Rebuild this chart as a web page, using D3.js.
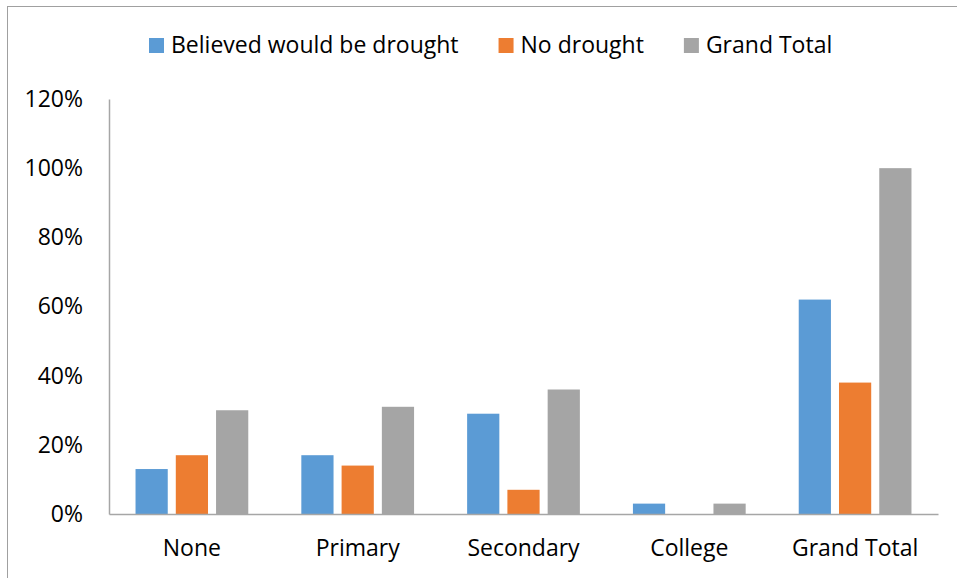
<!DOCTYPE html>
<html>
<head>
<meta charset="utf-8">
<script src="https://cdn.jsdelivr.net/npm/d3@7"></script>
<style>
  body { margin: 0; background: #fff; }
  text { font-family: "Open Sans", sans-serif; fill: #000; }
</style>
</head>
<body>
<div id="chart"></div>
<script>
// Data
const categories = ["None", "Primary", "Secondary", "College", "Grand Total"];
const seriesNames = ["Believed would be drought", "No drought", "Grand Total"];
const believed = [0.13, 0.17, 0.29, 0.03, 0.62];
const noDrought = [0.17, 0.14, 0.07, 0.00, 0.38];
const grandTotal = [0.30, 0.31, 0.36, 0.03, 1.00];
const yTicks = [0, 0.2, 0.4, 0.6, 0.8, 1.0, 1.2];
const colors = ["#5B9BD5", "#ED7D31", "#A5A5A5"];

const width = 957, height = 578;
const margin = { top: 99, right: 19, bottom: 64, left: 109 };
const fontSize = 23;

const svg = d3.select("#chart").append("svg")
    .attr("width", width)
    .attr("height", height);

// outer chart border (cropped on right/bottom)
svg.append("rect")
    .attr("x", 7.5).attr("y", 6.5)
    .attr("width", width + 20).attr("height", height + 20)
    .attr("fill", "none")
    .attr("stroke", "#a0a0a0")
    .attr("stroke-width", 1);

const x0 = d3.scaleBand()
    .domain(categories)
    .range([margin.left, width - margin.right])
    .paddingInner(0.32)
    .paddingOuter(0.16);

const x1 = d3.scaleBand()
    .domain(seriesNames)
    .range([0, x0.bandwidth()])
    .paddingInner(0.2);

const y = d3.scaleLinear()
    .domain([0, 1.2])
    .range([height - margin.bottom, margin.top]);

const rows = categories.map((c, i) => ({
    cat: c,
    vals: [believed[i], noDrought[i], grandTotal[i]]
}));

// Bars
const groups = svg.append("g").selectAll("g")
    .data(rows)
    .enter().append("g")
    .attr("transform", d => `translate(${x0(d.cat)},0)`);

groups.selectAll("rect")
    .data(d => d.vals.map((v, k) => ({ name: seriesNames[k], v, k })))
    .enter().append("rect")
    .attr("x", d => x1(d.name))
    .attr("y", d => y(d.v))
    .attr("width", x1.bandwidth())
    .attr("height", d => y(0) - y(d.v))
    .attr("fill", d => colors[d.k]);

// Y axis
const yAxis = svg.append("g")
    .attr("transform", `translate(${margin.left},0)`)
    .call(d3.axisLeft(y).tickValues(yTicks).tickFormat(d3.format(".0%")).tickSize(0).tickPadding(26));
yAxis.select(".domain").attr("stroke", "#a6a6a6").attr("stroke-width", 1.5);
yAxis.selectAll("text").attr("font-size", fontSize).style("font-family", null);

// X axis
const xAxis = svg.append("g")
    .attr("transform", `translate(0,${y(0)})`)
    .call(d3.axisBottom(x0).tickSize(0).tickPadding(26));
xAxis.select(".domain").attr("stroke", "#a6a6a6").attr("stroke-width", 1.5);
xAxis.selectAll("text").attr("font-size", fontSize).attr("dy", "0.71em").style("font-family", null);
svg.selectAll(".tick text").attr("fill", "#000");

// Legend
const legend = svg.append("g").attr("transform", "translate(149,38)");
let lx = 0;
seriesNames.forEach((name, i) => {
    const item = legend.append("g").attr("transform", `translate(${lx},0)`);
    item.append("rect")
        .attr("width", 15).attr("height", 15)
        .attr("fill", colors[i]);
    const t = item.append("text")
        .attr("x", 22).attr("y", 7)
        .attr("dy", "0.35em")
        .attr("font-size", fontSize)
        .text(name);
    lx += 22 + t.node().getComputedTextLength() + 40;
});
</script>
</body>
</html>
